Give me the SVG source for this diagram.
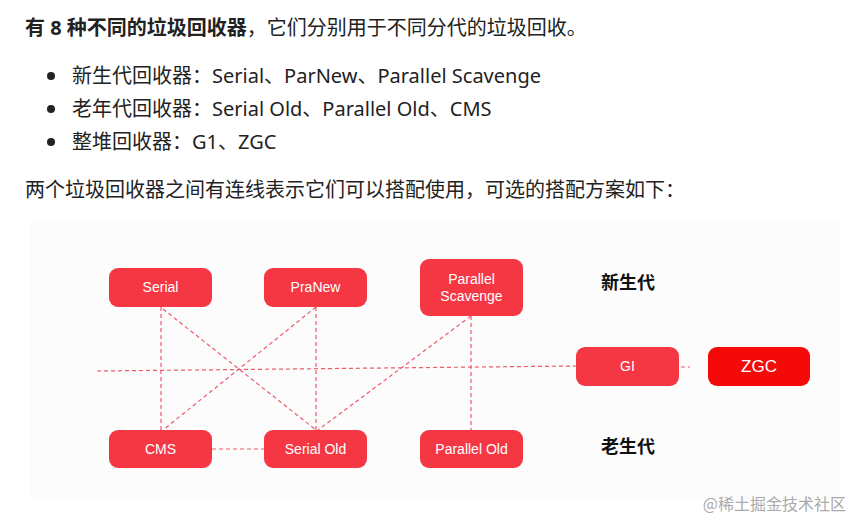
<svg xmlns="http://www.w3.org/2000/svg" width="852" height="521" viewBox="0 0 852 521">
<style>
.t{font-family:"Noto Sans","Noto Sans CJK SC",sans-serif;font-size:20px;fill:#222}
.n rect{fill:#f53744;rx:9}
.n text{font-family:"Liberation Sans","Noto Sans CJK SC",sans-serif;font-size:14px;fill:#fff;text-anchor:middle}
.lbl{font-family:"Noto Sans CJK SC",sans-serif;font-size:18px;fill:#111;font-weight:bold}
#edges line{stroke:#ee5a6a;stroke-width:1.2;stroke-dasharray:4 3;fill:none}
</style>
<rect width="852" height="521" fill="#fff"/>
<text class="t" x="25" y="35"><tspan font-weight="bold">有 8 种不同的垃圾回收器</tspan>，它们分别用于不同分代的垃圾回收。</text>
<circle cx="51" cy="76" r="4" fill="#222"/><text class="t" x="72" y="83">新生代回收器：Serial、ParNew、Parallel Scavenge</text>
<circle cx="51" cy="109" r="4" fill="#222"/><text class="t" x="72" y="116">老年代回收器：Serial Old、Parallel Old、CMS</text>
<circle cx="51" cy="142" r="4" fill="#222"/><text class="t" x="72" y="149">整堆回收器：G1、ZGC</text>
<text class="t" x="25" y="197">两个垃圾回收器之间有连线表示它们可以搭配使用，可选的搭配方案如下：</text>
<rect x="30" y="222" width="810" height="278" fill="#fcfcfc"/>
<g id="edges">
<line x1="97" y1="371" x2="576" y2="366"/>
<line x1="681" y1="367" x2="690" y2="367"/>
<line x1="161" y1="307" x2="161" y2="430"/>
<line x1="163" y1="309" x2="316" y2="430"/>
<line x1="316" y1="307" x2="163" y2="430"/>
<line x1="316" y1="307" x2="316" y2="430"/>
<line x1="471" y1="316" x2="318" y2="430"/>
<line x1="471" y1="316" x2="471" y2="430"/>
<line x1="212" y1="449" x2="264" y2="449"/>
</g>
<g id="serial" class="n"><rect x="109" y="268" width="103" height="39"/><text x="160.5" y="292">Serial</text></g>
<g id="pranew" class="n"><rect x="264" y="268" width="103" height="39"/><text x="315.5" y="292">PraNew</text></g>
<g id="parscav" class="n"><rect x="420" y="259" width="103" height="57"/><text x="471.5" y="284">Parallel</text><text x="471.5" y="301">Scavenge</text></g>
<g id="g1" class="n"><rect x="576" y="347" width="103" height="39"/><text x="627.5" y="371">GI</text></g>
<g id="zgc" class="n"><rect x="708" y="347" width="102" height="39" style="fill:#f50a0a"/><text x="759" y="372" style="font-size:17px">ZGC</text></g>
<g id="cms" class="n"><rect x="109" y="430" width="103" height="38"/><text x="160.5" y="454">CMS</text></g>
<g id="serialold" class="n"><rect x="264" y="430" width="103" height="38"/><text x="315.5" y="454">Serial Old</text></g>
<g id="parold" class="n"><rect x="420" y="430" width="103" height="38"/><text x="471.5" y="454">Parallel Old</text></g>
<text class="lbl" x="601" y="289">新生代</text>
<text class="lbl" x="601" y="453">老生代</text>
<text x="846" y="510" text-anchor="end" style="font-family:'Noto Sans CJK SC',sans-serif;font-size:16px;fill:#aaa">@稀土掘金技术社区</text>
</svg>
